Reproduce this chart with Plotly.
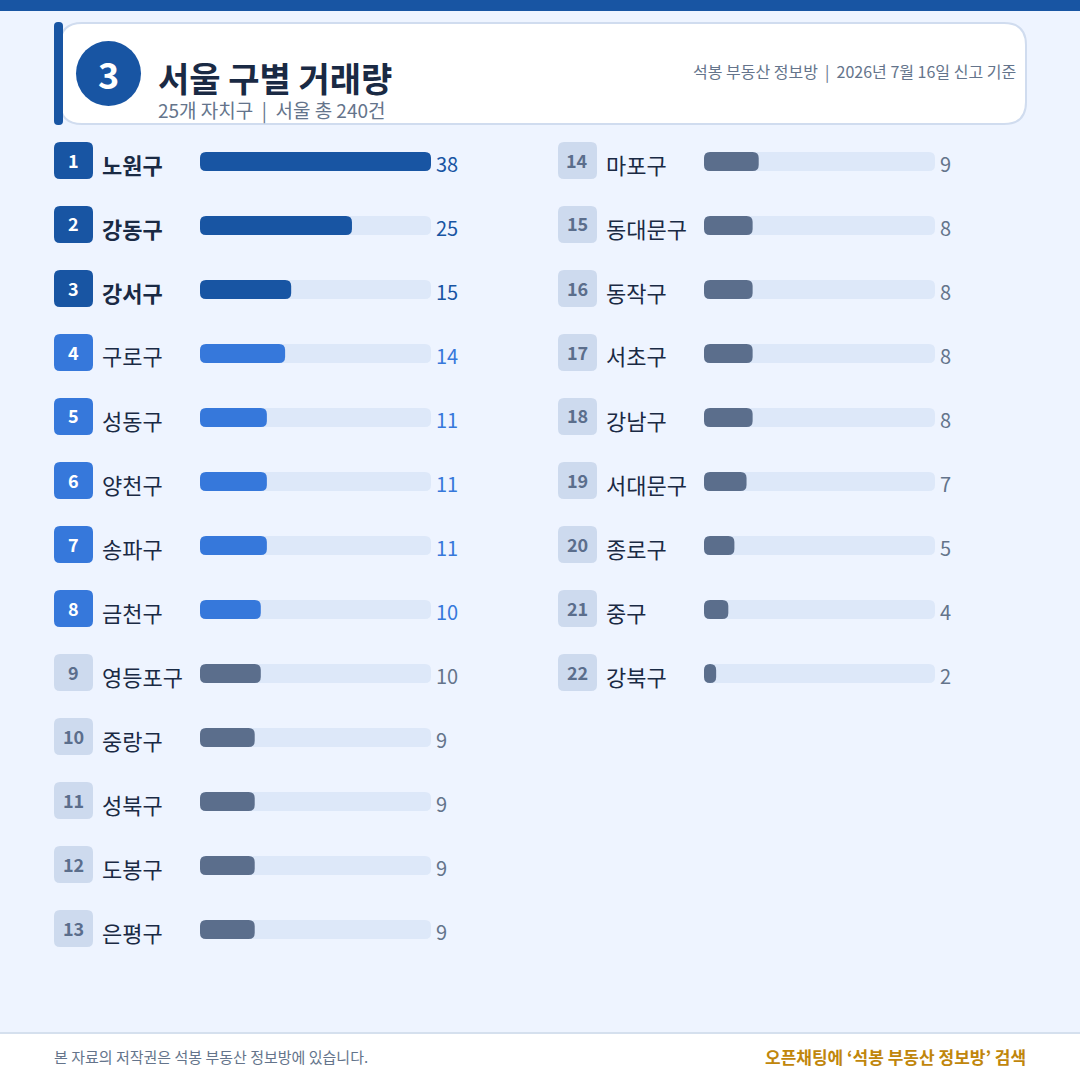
import plotly.graph_objects as go

# 서울 구별 거래량, rank order
left_names = ["노원구", "강동구", "강서구", "구로구", "성동구", "양천구", "송파구", "금천구", "영등포구", "중랑구", "성북구", "도봉구", "은평구"]
left_values = [38, 25, 15, 14, 11, 11, 11, 10, 10, 9, 9, 9, 9]
right_names = ["마포구", "동대문구", "동작구", "서초구", "강남구", "서대문구", "종로구", "중구", "강북구"]
right_values = [9, 8, 8, 8, 8, 7, 5, 4, 2]

NAVY = "#1855a3"
MID = "#3678db"
SLATE = "#5b6e8c"
TRACK = "#dde8f9"
BG = "#eef4ff"
BADGE = "#cddaee"
DARK = "#1a2a44"
FONT = "Noto Sans CJK KR"
W = 1080
ROW = 64
TOP = 129.5
BAR_W = 231


def px(x):
    return x / W


def py(y):
    return 1 - y / W


def rrect(x0, y0, x1, y1, r):
    return (f"M {px(x0 + r)} {py(y0)} L {px(x1 - r)} {py(y0)} Q {px(x1)} {py(y0)} {px(x1)} {py(y0 + r)} "
            f"L {px(x1)} {py(y1 - r)} Q {px(x1)} {py(y1)} {px(x1 - r)} {py(y1)} "
            f"L {px(x0 + r)} {py(y1)} Q {px(x0)} {py(y1)} {px(x0)} {py(y1 - r)} "
            f"L {px(x0)} {py(y0 + r)} Q {px(x0)} {py(y0)} {px(x0 + r)} {py(y0)} Z")


def box(x0, y0, x1, y1, color, r=0, line=None, layer="below"):
    return dict(type="path", xref="paper", yref="paper", path=rrect(x0, y0, x1, y1, r), fillcolor=color,
                line=dict(color=line or color, width=2 if line else 0), layer=layer)


# rounded bar on the value axis, plotly's barcornerradius only rounds the far end
def value_bar(value, cy, xa, color, max_value):
    rx = min(6 * max_value / BAR_W, value / 2)
    y0, y1 = py(cy - 9.5), py(cy + 9.5)
    ry = 6 / W
    path = (f"M {rx} {y0} L {value - rx} {y0} Q {value} {y0} {value} {y0 - ry} L {value} {y1 + ry} "
            f"Q {value} {y1} {value - rx} {y1} L {rx} {y1} Q 0 {y1} 0 {y1 + ry} L 0 {y0 - ry} Q 0 {y0} {rx} {y0} Z")
    return dict(type="path", xref=xa, yref="paper", path=path, fillcolor=color, line=dict(width=0), layer="below")


def label(x, y, text, size, color, anchor="left", bold=False):
    return dict(xref="paper", yref="paper", x=px(x), y=py(y), text=f"<b>{text}</b>" if bold else text,
                showarrow=False, xanchor=anchor, yanchor="middle",
                font=dict(family=FONT, size=size, color=color))


def tier_color(rank):
    if rank <= 3:
        return NAVY
    if rank <= 8:
        return MID
    return SLATE


fig = go.Figure()
shapes = [
    box(-1, 0, W + 1, 11, NAVY),
    box(60, 23, 1026, 124, "white", 22, "#d0dcef"),
    box(54, 22, 63, 125, NAVY, 4),
    dict(type="circle", xref="paper", yref="paper", x0=px(76), x1=px(141), y0=py(41), y1=py(106),
         fillcolor=NAVY, line=dict(width=0), layer="below"),
    box(-1, 1033, W + 1, W + 1, "white", 0, "#d5e0ee"),
]
annotations = [
    label(108, 73, "3", 36, "white", "center", True),
    label(156, 77, "서울 구별 거래량", 34, DARK, bold=True),
    label(156, 110, "25개 자치구  |  서울 총 240건", 19, "#64748b"),
    label(1018, 71, "석봉 부동산 정보방  |  2026년 7월 16일 신고 기준", 16, "#64748b", "right"),
    label(52, 1056, "본 자료의 저작권은 석봉 부동산 정보방에 있습니다.", 15, "#64748b"),
    label(1028, 1056, "오픈채팅에 ‘석봉 부동산 정보방’ 검색", 17, "#c0860b", "right", True),
]

columns = [(left_names, left_values, 54, "x", "y", 1), (right_names, right_values, 558, "x2", "y2", 14)]
max_value = max(left_values + right_values)
for names, values, badge_x, xa, ya, first_rank in columns:
    ranks = list(range(first_rank, first_rank + len(names)))
    # bars stay in the figure for the axes and hover, the rounded shapes carry the colour
    fig.add_trace(go.Bar(x=values, y=names, orientation="h", marker=dict(color=NAVY, opacity=0),
                         xaxis=xa, yaxis=ya, width=0.297, showlegend=False))
    for i, (name, value, rank) in enumerate(zip(names, values, ranks)):
        cy = TOP + ROW * i + 32
        light = rank > 8
        shapes.append(value_bar(max_value, cy, xa, TRACK, max_value))
        shapes.append(value_bar(value, cy, xa, tier_color(rank), max_value))
        shapes.append(box(badge_x, cy - 19.5, badge_x + 39, cy + 17.5, BADGE if light else tier_color(rank), 6))
        annotations.append(label(badge_x + 19, cy - 2, str(rank), 18, SLATE if light else "white", "center", True))
        annotations.append(label(badge_x + 46, cy + 2, name, 22, DARK, bold=rank <= 3))
        annotations.append(dict(xref=xa, yref=ya, x=max_value, y=name, text=str(value), showarrow=False,
                                xanchor="left", yanchor="middle", xshift=3, yshift=-2,
                                font=dict(family=FONT, size=20, color=NAVY if rank <= 3 else MID if rank <= 8 else "#64748b")))

axis = dict(visible=False, fixedrange=True)
y_domain = [py(TOP + ROW * 13), py(TOP)]
fig.update_layout(
    width=W, height=W, margin=dict(l=0, r=0, t=0, b=0),
    paper_bgcolor=BG, plot_bgcolor="rgba(0,0,0,0)",
    showlegend=False,
    font=dict(family=FONT),
    shapes=shapes, annotations=annotations,
    xaxis=dict(axis, domain=[px(200), px(200 + BAR_W)], range=[0, max_value]),
    xaxis2=dict(axis, domain=[px(704), px(704 + BAR_W)], range=[0, max_value], anchor="y2"),
    yaxis=dict(axis, domain=y_domain, type="category", categoryorder="array", categoryarray=left_names, range=[12.5, -0.5]),
    yaxis2=dict(axis, domain=y_domain, type="category", categoryorder="array", categoryarray=right_names, range=[12.5, -0.5], anchor="x2"),
)

fig.write_html("out.html", config={"displayModeBar": False},
               post_script="document.body.style.margin='0';document.body.style.overflow='hidden';")
